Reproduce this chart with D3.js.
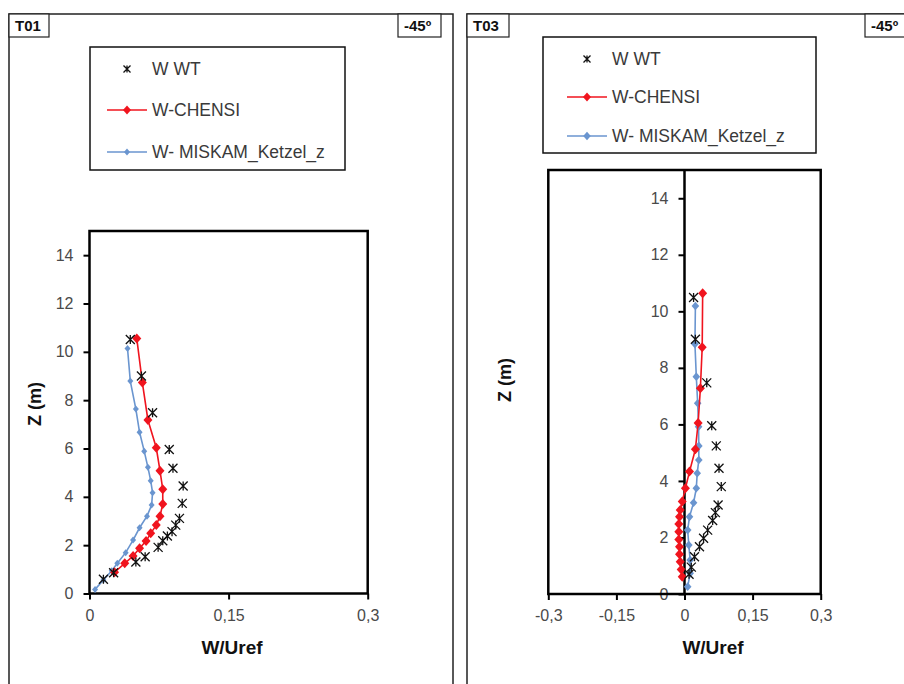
<!DOCTYPE html>
<html>
<head>
<meta charset="utf-8">
<script src="https://cdn.jsdelivr.net/npm/d3@7"></script>
<style>
html,body{margin:0;padding:0;background:#fff;}
svg{display:block;font-family:"Liberation Sans",Arial,sans-serif;}
</style>
</head>
<body>
<svg id="chart" width="904" height="684"></svg>
<script>
// ---------- DATA ----------
const seriesNames = ["W WT", "W-CHENSI", "W- MISKAM_Ketzel_z"];
const xTicksT01 = [0, 0.15, 0.3];
const xTicksT03 = [-0.3, -0.15, 0, 0.15, 0.3];
const yTicks = [0, 2, 4, 6, 8, 10, 12, 14];

// T01
const t01_wt_z = [10.51, 9.0, 7.48, 5.96, 5.18, 4.45, 3.73, 3.11, 2.83, 2.56, 2.38, 2.18, 1.91, 1.52, 1.30, 0.86, 0.59];
const t01_wt_w = [0.044, 0.056, 0.068, 0.086, 0.090, 0.101, 0.100, 0.097, 0.093, 0.089, 0.084, 0.079, 0.074, 0.060, 0.050, 0.026, 0.015];
const t01_ch_z = [10.55, 8.73, 7.18, 6.03, 5.08, 4.31, 3.70, 3.20, 2.83, 2.49, 2.17, 1.87, 1.55, 1.25, 0.88];
const t01_ch_w = [0.051, 0.057, 0.063, 0.072, 0.076, 0.079, 0.079, 0.076, 0.072, 0.066, 0.061, 0.054, 0.047, 0.038, 0.027];
const t01_mi_z = [10.14, 8.79, 7.63, 6.67, 5.89, 5.22, 4.67, 4.17, 3.66, 3.20, 2.72, 2.21, 1.69, 1.25, 0.94, 0.56, 0.17];
const t01_mi_w = [0.041, 0.044, 0.050, 0.054, 0.059, 0.063, 0.066, 0.068, 0.067, 0.062, 0.054, 0.047, 0.039, 0.030, 0.024, 0.015, 0.006];

// T03
const t03_wt_z = [10.49, 9.01, 7.47, 5.95, 5.24, 4.45, 3.80, 3.15, 2.88, 2.60, 2.26, 1.97, 1.67, 1.32, 0.95, 0.70];
const t03_wt_w = [0.020, 0.024, 0.049, 0.060, 0.070, 0.076, 0.081, 0.074, 0.068, 0.062, 0.051, 0.042, 0.033, 0.022, 0.015, 0.010];
const t03_ch_z = [10.64, 8.73, 7.28, 6.05, 5.12, 4.33, 3.74, 3.27, 2.97, 2.73, 2.48, 2.20, 1.93, 1.67, 1.41, 1.14, 0.87, 0.61];
const t03_ch_w = [0.040, 0.039, 0.035, 0.030, 0.024, 0.011, 0.002, -0.005, -0.0095, -0.011, -0.0125, -0.0125, -0.0125, -0.011, -0.011, -0.0095, -0.0073, -0.005];
const t03_mi_z = [10.19, 8.84, 7.69, 6.75, 5.92, 5.24, 4.74, 4.27, 3.74, 3.23, 2.73, 2.26, 1.73, 1.20, 0.73, 0.26];
const t03_mi_w = [0.024, 0.023, 0.026, 0.029, 0.031, 0.0315, 0.0315, 0.028, 0.026, 0.020, 0.011, 0.007, 0.0095, 0.0125, 0.0125, 0.007];

// ---------- STYLE ----------
const RED = "#f0141e";
const BLUE = "#6a95cf";
const TXT = "#4a4a4a";

const svg = d3.select("#chart");
const zip = (w, z) => w.map((v, i) => ({w: v, z: z[i]}));

function asterisk(s) {
  return `M${-s},${-s}L${s},${s}M${-s},${s}L${s},${-s}M0,${-s}L0,${s}`;
}
function diamond(a, b) {
  return `M0,${-b}L${a},0L0,${b}L${-a},0Z`;
}

function panel(cfg) {
  const g = svg.append("g");
  // outer frame
  g.append("rect").attr("x", cfg.frame[0]).attr("y", cfg.frame[1])
    .attr("width", cfg.frame[2]).attr("height", cfg.frame[3])
    .attr("fill", "none").attr("stroke", "#222").attr("stroke-width", 1.5);
  // label boxes
  cfg.labels.forEach(l => {
    g.append("rect").attr("x", l.x).attr("y", l.y).attr("width", l.w).attr("height", l.h)
      .attr("fill", "#fff").attr("stroke", "#222").attr("stroke-width", 1.2);
    g.append("text").attr("x", l.x + 6).attr("y", l.y + 17)
      .attr("font-size", 15).attr("font-weight", "bold").attr("fill", "#111").text(l.t);
  });

  const x = d3.scaleLinear().domain(cfg.xdom).range([cfg.px0, cfg.px1]);
  const y = d3.scaleLinear().domain([0, 15]).range([cfg.py0, cfg.py1]);

  // x axis
  const xa = g.append("g").attr("transform", `translate(0,${cfg.py0})`)
    .call(d3.axisBottom(x).tickValues(cfg.xticks).tickSize(6).tickSizeOuter(0).tickPadding(10)
      .tickFormat(d => String(d).replace(".", ",")));
  xa.select(".domain").remove();
  xa.selectAll("line").attr("stroke", "#000").attr("stroke-width", 2);
  xa.selectAll("text").attr("font-size", 16).attr("fill", TXT)
    .attr("font-family", "'Liberation Sans',Arial,sans-serif");

  // y axis
  const yx = x(cfg.yAxisAt);
  const ya = g.append("g").attr("transform", `translate(${yx},0)`)
    .call(d3.axisLeft(y).tickValues(yTicks).tickSize(6).tickSizeOuter(0).tickPadding(10));
  ya.select(".domain").remove();
  ya.selectAll("line").attr("stroke", "#000").attr("stroke-width", 2);
  ya.selectAll("text").attr("font-size", 16).attr("fill", TXT)
    .attr("font-family", "'Liberation Sans',Arial,sans-serif");

  // plot frame
  g.append("rect").attr("x", cfg.px0).attr("y", cfg.py1)
    .attr("width", cfg.px1 - cfg.px0).attr("height", cfg.py0 - cfg.py1)
    .attr("fill", "none").attr("stroke", "#000").attr("stroke-width", 2.5);
  if (cfg.yAxisAt !== cfg.xdom[0]) {
    g.append("line").attr("x1", yx).attr("x2", yx).attr("y1", cfg.py1).attr("y2", cfg.py0)
      .attr("stroke", "#000").attr("stroke-width", 2.5);
  }

  // axis titles
  g.append("text").attr("x", cfg.xtitle[0]).attr("y", cfg.xtitle[1]).attr("text-anchor", "middle")
    .attr("font-size", 19).attr("font-weight", "bold").attr("fill", "#111").text("W/Uref");
  g.append("text").attr("transform", `translate(${cfg.ytitle[0]},${cfg.ytitle[1]}) rotate(-90)`)
    .attr("text-anchor", "middle").attr("font-size", 18).attr("font-weight", "bold")
    .attr("fill", "#111").text("Z (m)");

  const line = d3.line().x(d => x(d.w)).y(d => y(d.z));
  const plot = g.append("g");
  // MISKAM
  const mi = zip(cfg.mi[0], cfg.mi[1]);
  plot.append("path").datum(mi).attr("d", line).attr("fill", "none")
    .attr("stroke", BLUE).attr("stroke-width", 1.6);
  plot.selectAll(".mi").data(mi).join("path")
    .attr("transform", d => `translate(${x(d.w)},${y(d.z)})`)
    .attr("d", diamond(cfg.blueSize, cfg.blueSize + 0.5)).attr("fill", BLUE);
  // CHENSI
  const ch = zip(cfg.ch[0], cfg.ch[1]);
  plot.append("path").datum(ch).attr("d", line).attr("fill", "none")
    .attr("stroke", RED).attr("stroke-width", 1.6);
  plot.selectAll(".ch").data(ch).join("path")
    .attr("transform", d => `translate(${x(d.w)},${y(d.z)})`)
    .attr("d", diamond(4.5, 5)).attr("fill", RED);
  // WT
  const wt = zip(cfg.wt[0], cfg.wt[1]);
  plot.selectAll(".wt").data(wt).join("path")
    .attr("transform", d => `translate(${x(d.w)},${y(d.z)})`)
    .attr("d", asterisk(4.5)).attr("fill", "none").attr("stroke", "#111").attr("stroke-width", 1.3);

  // legend
  const L = cfg.legend;
  g.append("rect").attr("x", L.x).attr("y", L.y).attr("width", L.w).attr("height", L.h)
    .attr("fill", "#fff").attr("stroke", "#111").attr("stroke-width", 1.5);
  seriesNames.forEach((name, i) => {
    const cy = L.rows[i];
    if (i === 0) {
      g.append("path").attr("transform", `translate(${L.mx},${cy})`).attr("d", asterisk(3.5))
        .attr("fill", "none").attr("stroke", "#111").attr("stroke-width", 1.3);
    } else {
      const c = i === 1 ? RED : BLUE;
      g.append("line").attr("x1", L.mx - 20).attr("x2", L.mx + 20).attr("y1", cy).attr("y2", cy)
        .attr("stroke", c).attr("stroke-width", 1.6);
      g.append("path").attr("transform", `translate(${L.mx},${cy})`)
        .attr("d", i === 1 ? diamond(4, 4.5) : diamond(cfg.blueSize, cfg.blueSize + 0.5)).attr("fill", c);
    }
    g.append("text").attr("x", L.tx).attr("y", cy + 6).attr("font-size", 17.5)
      .attr("fill", "#3a3a3a").text(name);
  });
}

panel({
  frame: [9, 14, 444, 700],
  labels: [{x: 9, y: 14, w: 40, h: 23, t: "T01"}, {x: 398, y: 14, w: 43, h: 23, t: "-45º"}],
  xdom: [0, 0.3], px0: 89.5, px1: 367.7, py0: 593.5, py1: 231,
  xticks: xTicksT01, yAxisAt: 0,
  xtitle: [232, 654], ytitle: [41, 404],
  wt: [t01_wt_w, t01_wt_z], ch: [t01_ch_w, t01_ch_z], mi: [t01_mi_w, t01_mi_z],
  blueSize: 3,
  legend: {x: 90, y: 47, w: 255, h: 123, rows: [69, 110, 152], mx: 127, tx: 152}
});

panel({
  frame: [467, 14, 460, 700],
  labels: [{x: 467, y: 14, w: 42, h: 23, t: "T03"}, {x: 865, y: 14, w: 50, h: 23, t: "-45º"}],
  xdom: [-0.3, 0.3], px0: 548.3, px1: 820.7, py0: 594, py1: 170,
  xticks: xTicksT03, yAxisAt: 0,
  xtitle: [713, 654], ytitle: [511, 380],
  wt: [t03_wt_w, t03_wt_z], ch: [t03_ch_w, t03_ch_z], mi: [t03_mi_w, t03_mi_z],
  blueSize: 3.8,
  legend: {x: 543, y: 37, w: 273, h: 116, rows: [59, 97, 136], mx: 587, tx: 612}
});
</script>
</body>
</html>
